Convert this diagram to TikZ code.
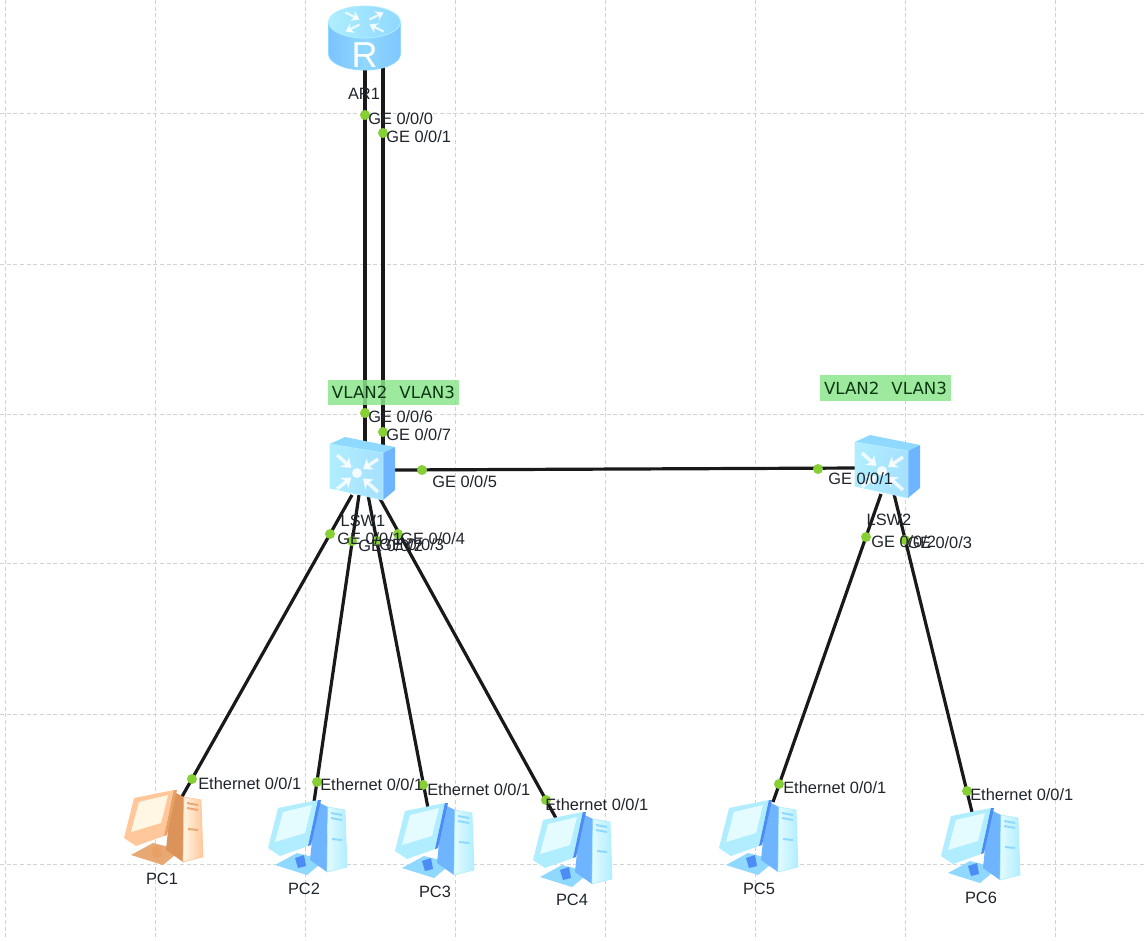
\documentclass[tikz,border=0pt]{standalone}
\usepackage{fontspec}
\setmainfont{Liberation Sans}
\newfontfamily\vlanfont{DejaVu Sans}
\usetikzlibrary{backgrounds,arrows.meta,calc}
\definecolor{gridc}{HTML}{D2D2D2}
\definecolor{dotc}{HTML}{86CF35}
\definecolor{vlanc}{HTML}{8CE68C}
\definecolor{textc}{HTML}{20242C}
\definecolor{pcL}{HTML}{B0EEFF}
\definecolor{pcM}{HTML}{8FD8FF}
\definecolor{pcD}{HTML}{6FB4FF}
\definecolor{pcS}{HTML}{E4FBFF}
\definecolor{pcB}{HTML}{4C8CF5}
\definecolor{peL}{HTML}{FFC79A}
\definecolor{peM}{HTML}{E8A874}
\definecolor{peD}{HTML}{DB935A}
\definecolor{peS}{HTML}{FFF6E4}
\definecolor{peB}{HTML}{E8A066}
\tikzset{
  gridline/.style={gridc,line width=.7pt,dash pattern=on 3pt off 2pt},
  wire/.style={black!90,line width=2.4pt},
  port/.style={circle,fill=dotc,inner sep=0pt,minimum size=7.5pt},
  portlabel/.style={anchor=west,inner sep=0pt,font=\fontsize{12.3}{12.3}\selectfont,text=textc,text height=9pt,text depth=0pt},
  devlabel/.style={inner sep=0pt,font=\fontsize{12.3}{12.3}\selectfont,text=textc},
  vlanbox/.style={fill=vlanc,fill opacity=.85,text opacity=1,inner sep=0pt,minimum width=98pt,minimum height=19pt,font=\vlanfont\fontsize{12.5}{12.5}\selectfont,text=textc!75!green!60!black},
  pics/router/.style={code={
    \path[draw=pcM,line width=.6pt,left color=pcD!60!pcM,right color=pcD!50!pcM,middle color=pcM] (-36,-42) -- (-36,-10) arc[start angle=180,end angle=360,x radius=36,y radius=-16] -- (36,-42) -- cycle;
    \path[draw=pcL,line width=.6pt,left color=pcL,right color=pcM] (0,-42) ellipse[x radius=36,y radius=16];
    \foreach \a/\t in {45/{<-},135/{->},225/{<-},315/{->}}{
      \begin{scope}[shift={(0,-42)},yscale=.5]
        \draw[white,line width=1.6pt,opacity=.8,\t,>={Stealth[length=6pt,width=8pt]}] (\a:7) -- (\a:27);
      \end{scope}}
    \node[white,inner sep=0pt,font=\fontsize{27}{27}\selectfont] at (0,-9) {R};
  }},
  pics/switchbox/.style={code={
    \fill[pcM] (0,0) -- (15,-7) -- (65,3) -- (53,9) -- cycle;
    \fill[pcD] (53,9) -- (65,3) -- (65,46) -- (53,56) -- cycle;
    \path[draw=pcL,line width=.6pt,left color=pcL,right color=pcM!80!white] (0,0) -- (53,9) -- (53,56) -- (0,44) -- cycle;
    \fill[white,opacity=.85] (27,29) ellipse[x radius=5,y radius=5];
    \foreach \a/\b in {7/11,7/45,48/15,48/48}{
      \draw[white,line width=2.6pt,opacity=.8,-{Stealth[length=7pt,width=10pt]}] (\a,\b) -- ($(\a,\b)!.72!(27,29)$);
    }
  }},
  pics/computer/.style n args={5}{code={
    % base
    \fill[#2] (7,65) -- (29,53) -- (57,60) -- (39,75) -- cycle;
    \fill[#5] (27,58) -- (36,55) -- (38,66) -- (30,68) -- cycle;
    % tower
    \fill[#3] (48,1) -- (60,7) -- (59,72) -- (42,60) -- cycle;
    \path[draw=#1,line width=.5pt,left color=#4,right color=#1] (60,7) -- (77,10) -- (79,67) -- (59,72) -- cycle;
    \fill[#2] (63,12) -- (74,14) -- (74,16) -- (63,14) -- cycle;
    \fill[#2] (63,17) -- (74,19) -- (74,21) -- (63,19) -- cycle;
    \fill[#2] (64,38) -- (74,39) -- (74,41) -- (64,40) -- cycle;
    % monitor
    \fill[#1] (0,48) -- (10,8) -- (50,0) -- (40,46) -- (12,56) -- cycle;
    \fill[#5] (50,0) -- (53,0) -- (43,45) -- (40,46) -- cycle;
    \fill[#4] (7,42) -- (15,12) -- (44,5) -- (37,33) -- cycle;
  }}
}
\begin{document}
\begin{tikzpicture}[x=.75pt,y=-.75pt]
\useasboundingbox (0,0) rectangle (1146,940);
% device end points
\coordinate (ar1a) at (365,66);
\coordinate (ar1b) at (383,64);
\coordinate (sw1a) at (365,442);
\coordinate (sw1b) at (383,445);
\coordinate (sw1e) at (392,470);
\coordinate (sw2w) at (858,468);
\coordinate (sw1p1) at (352,495);
\coordinate (sw1p2) at (359,495);
\coordinate (sw1p3) at (368,495);
\coordinate (sw1p4) at (378,495);
\coordinate (sw2p2) at (881,494);
\coordinate (sw2p3) at (894,494);
\coordinate (pc1t) at (179,802);
\coordinate (pc2t) at (314,802);
\coordinate (pc3t) at (428,808);
\coordinate (pc4t) at (557,820);
\coordinate (pc5t) at (773,802);
\coordinate (pc6t) at (972,812);
% ports
\node[port] (p1) at (365,115) {};
\node[port] (p2) at (383,133) {};
\node[port] (p3) at (365,413) {};
\node[port] (p4) at (383,432) {};
\node[port] (p5) at (422,470) {};
\node[port] (p6) at (818,469) {};
\node[port] (p7) at (330,534) {};
\node[port] (p8) at (352,541) {};
\node[port] (p9) at (377,541) {};
\node[port] (p10) at (398,534) {};
\node[port] (p11) at (866,537) {};
\node[port] (p12) at (905,540) {};
\node[port] (p13) at (192,779) {};
\node[port] (p14) at (317,782) {};
\node[port] (p15) at (423,785) {};
\node[port] (p16) at (546,800) {};
\node[port] (p17) at (779,784) {};
\node[port] (p18) at (967,791) {};
\begin{pgfonlayer}{background}
\fill[white] (0,0) rectangle (1146,940);
\foreach \x in {5,155,305,455,605,755,905,1055} \draw[gridline] (\x,0) -- (\x,940);
\foreach \y in {113,264,414,563,714,864} \draw[gridline] (0,\y) -- (1146,\y);
\draw[wire] (ar1a) -- (sw1a);
\draw[wire] (ar1b) -- (sw1b);
\draw[wire] (sw1e) -- (sw2w);
\draw[wire] (sw1p1) -- (pc1t);
\draw[wire] (sw1p2) -- (pc2t);
\draw[wire] (sw1p3) -- (pc3t);
\draw[wire] (sw1p4) -- (pc4t);
\draw[wire] (sw2p2) -- (pc5t);
\draw[wire] (sw2p3) -- (pc6t);
\end{pgfonlayer}
% VLAN boxes
\node[vlanbox] (v1) at (393.5,392.5) {VLAN2\ \ \kern1pt VLAN3};
\node[vlanbox] (v2) at (885.5,388) {VLAN2\ \ \kern1pt VLAN3};
% devices
\pic at (364.5,64) {router};
\pic at (330,444) {switchbox};
\pic at (855,442) {switchbox};
\pic at (124,790) {computer={peL}{peM}{peD}{peS}{peB}};
\pic at (268,800) {computer={pcL}{pcM}{pcD}{pcS}{pcB}};
\pic at (395,803) {computer={pcL}{pcM}{pcD}{pcS}{pcB}};
\pic at (533,812) {computer={pcL}{pcM}{pcD}{pcS}{pcB}};
\pic at (719,800) {computer={pcL}{pcM}{pcD}{pcS}{pcB}};
\pic at (941,808) {computer={pcL}{pcM}{pcD}{pcS}{pcB}};
% device labels
\node[devlabel] (lar1) at (364,94) {AR1};
\node[devlabel] (lsw1) at (363,521) {LSW1};
\node[devlabel] (lsw2) at (889,520) {LSW2};
\node[devlabel] (lpc1) at (162,879) {PC1};
\node[devlabel] (lpc2) at (304,889) {PC2};
\node[devlabel] (lpc3) at (435,892) {PC3};
\node[devlabel] (lpc4) at (572,900) {PC4};
\node[devlabel] (lpc5) at (759,889) {PC5};
\node[devlabel] (lpc6) at (981,898) {PC6};
% port labels
\node[portlabel] (t1) at (368,118) {GE 0/0/0};
\node[portlabel] (t2) at (386,136) {GE 0/0/1};
\node[portlabel] (t3) at (368,416) {GE 0/0/6};
\node[portlabel] (t4) at (386,434) {GE 0/0/7};
\node[portlabel] (t5) at (432,481) {GE 0/0/5};
\node[portlabel] (t6) at (828,478) {GE 0/0/1};
\node[portlabel] (t7) at (337,538) {GE 0/0/1};
\node[portlabel] (t8) at (358,545) {GE 0/0/2};
\node[portlabel] (t9) at (379,544) {GE 0/0/3};
\node[portlabel] (t10) at (400,538) {GE 0/0/4};
\node[portlabel] (t11) at (871,541) {GE 0/0/2};
\node[portlabel] (t12) at (907,542) {GE 0/0/3};
\node[portlabel] (t13) at (198,783) {Ethernet 0/0/1};
\node[portlabel] (t14) at (320,784) {Ethernet 0/0/1};
\node[portlabel] (t15) at (427,789) {Ethernet 0/0/1};
\node[portlabel] (t16) at (545,804) {Ethernet 0/0/1};
\node[portlabel] (t17) at (783,787) {Ethernet 0/0/1};
\node[portlabel] (t18) at (970,794) {Ethernet 0/0/1};
\end{tikzpicture}
\end{document}
